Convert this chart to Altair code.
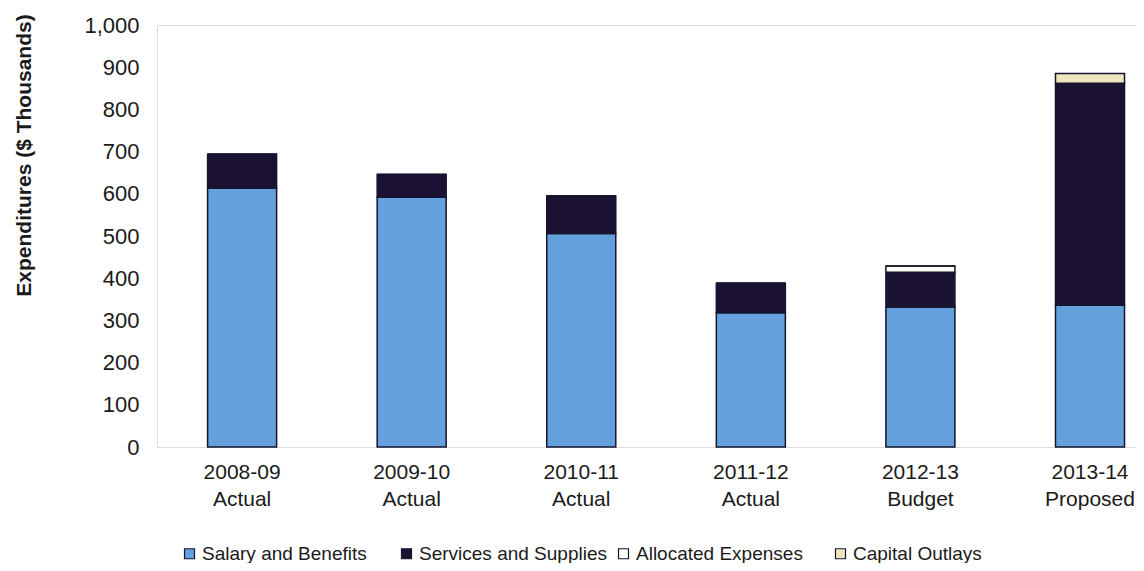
import altair as alt
import pandas as pd

categories = ["2008-09 Actual", "2009-10 Actual", "2010-11 Actual",
              "2011-12 Actual", "2012-13 Budget", "2013-14 Proposed"]
series = ["Salary and Benefits", "Services and Supplies",
          "Allocated Expenses", "Capital Outlays"]
salary = [613, 592, 506, 318, 332, 336]
services = [81, 54, 89, 70, 82, 526]
allocated = [0, 0, 0, 0, 15, 0]
capital = [0, 0, 0, 0, 0, 23]
colors = ["#63a0dc", "#1b1233", "#fdfcf6", "#efe5bf"]
y_ticks = [0, 100, 200, 300, 400, 500, 600, 700, 800, 900, 1000]

rows = []
for i, c in enumerate(categories):
    for k, (s, vals) in enumerate(zip(series, [salary, services, allocated, capital])):
        rows.append({"cat": c, "series": s, "value": vals[i], "order": k})
df = pd.DataFrame(rows)

FONT = "Liberation Sans"

chart = alt.Chart(df).mark_bar(stroke="#15152e", strokeWidth=1.5).encode(
    x=alt.X("cat:N", sort=categories,
            scale=alt.Scale(paddingInner=0.593, paddingOuter=0.183, align=0.815),
            axis=alt.Axis(title=None, labelAngle=0, ticks=False,
                          domainColor="#dddddd", labelFontSize=21,
                          labelFont=FONT, labelColor="#1a1a1a",
                          labelPadding=14, labelLineHeight=27, labelLimit=200,
                          labelExpr="split(datum.label, ' ')")),
    y=alt.Y("value:Q", stack="zero",
            scale=alt.Scale(domain=[0, 1000]),
            axis=alt.Axis(title="Expenditures ($ Thousands)", values=y_ticks,
                          format=",.0f", grid=False, ticks=False,
                          domainColor="#dddddd", labelFontSize=22,
                          labelFont=FONT, labelColor="#1a1a1a", labelPadding=18,
                          titleFont=FONT, titleFontSize=21, titleFontWeight="bold",
                          titleColor="#1a1a1a", titleAngle=-90, titleAlign="center",
                          titleBaseline="middle", titleX=-133, titleY=130)),
    color=alt.Color("series:N", sort=series,
                    scale=alt.Scale(domain=series, range=colors),
                    legend=alt.Legend(title=None, orient="none", direction="horizontal",
                                      columns=4, gridAlign="all", legendX=23, legendY=519,
                                      symbolType="square", symbolSize=100,
                                      symbolStrokeColor="#15152e", symbolStrokeWidth=1.2,
                                      labelFont=FONT, labelFontSize=19, labelLimit=400,
                                      labelColor="#1a1a1a", labelOffset=3,
                                      columnPadding=7)),
    order=alt.Order("order:Q"),
).properties(
    width=979, height=422,
    autosize=alt.AutoSizeParams(type="none"),
    padding={"left": 149, "top": 17, "right": 0, "bottom": 116},
).configure_view(stroke=None).configure(background="white")

chart.save("out.html", embed_options={"renderer": "svg", "actions": False})
